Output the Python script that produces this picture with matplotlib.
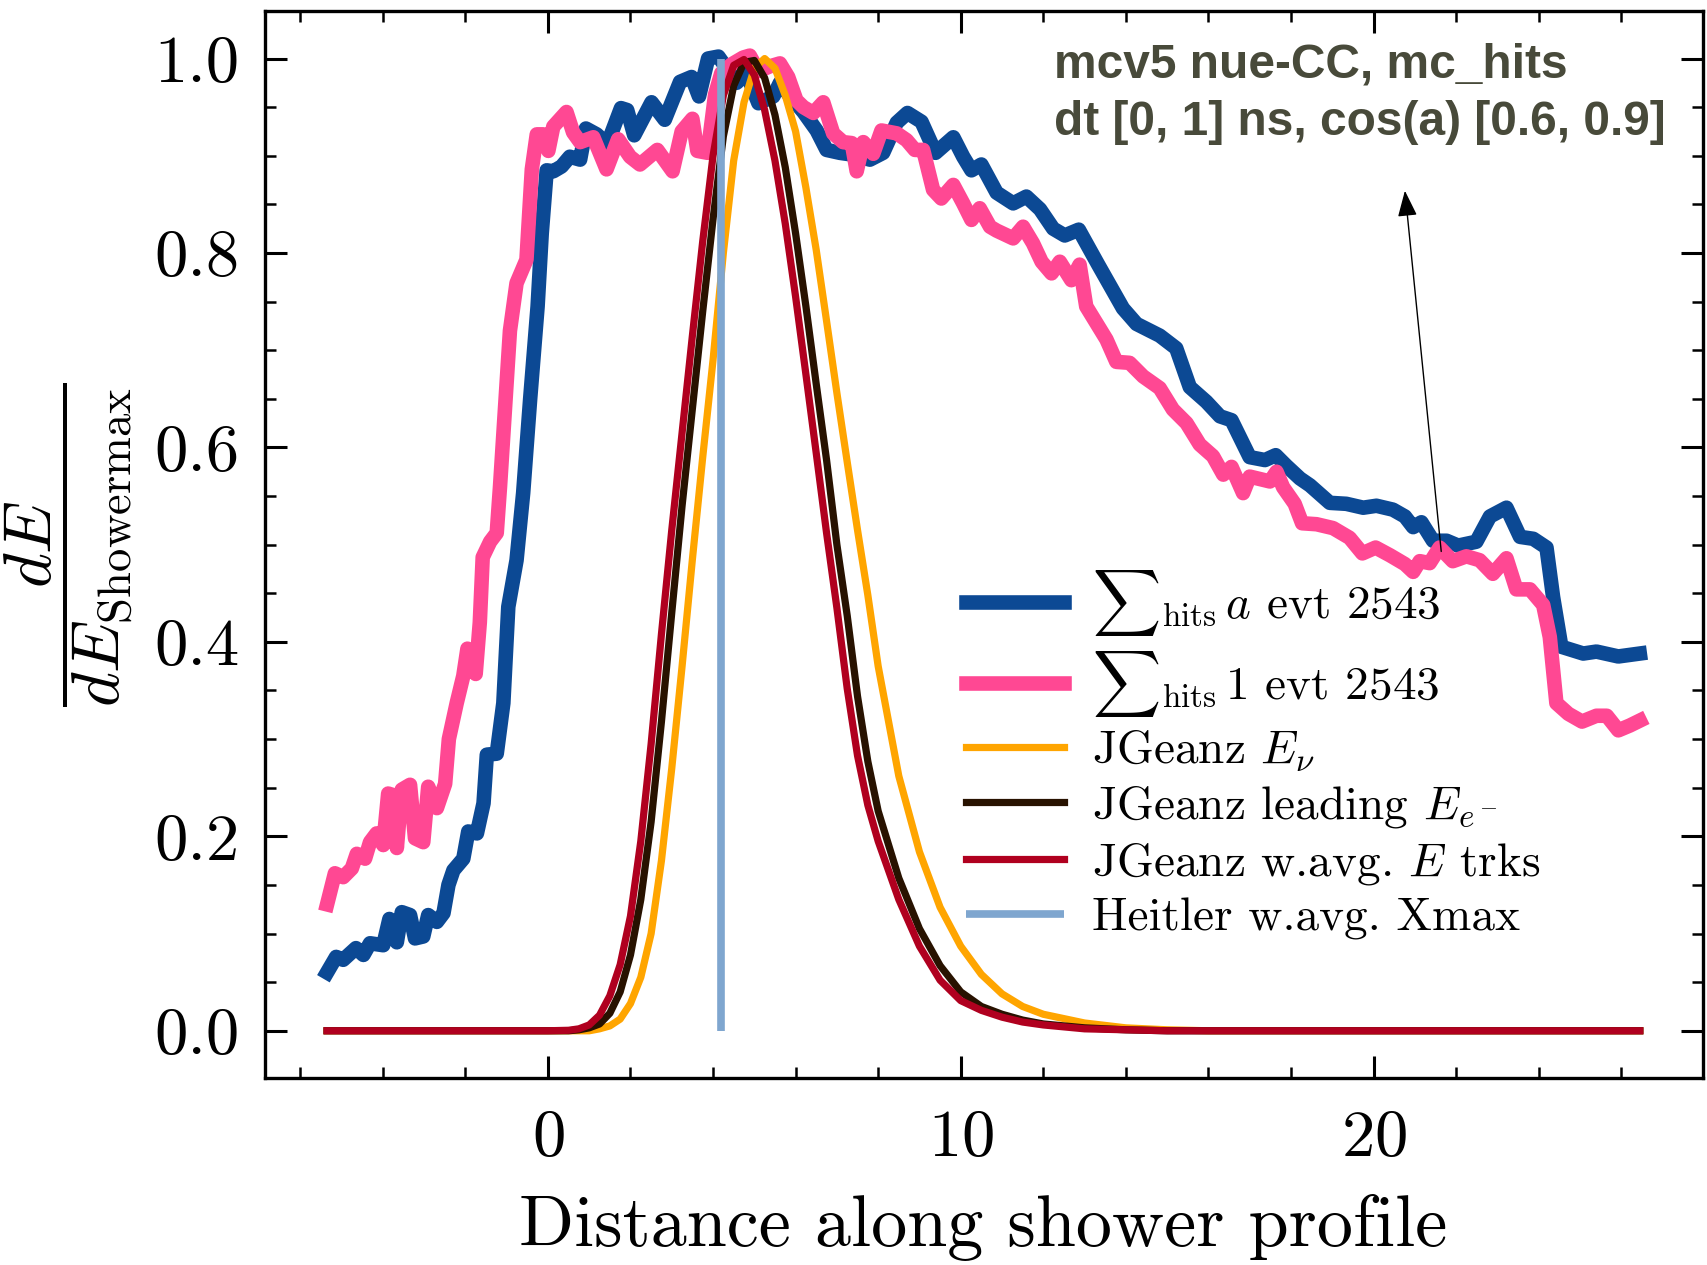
import numpy as np
import matplotlib
matplotlib.use('Agg')
import matplotlib.pyplot as plt

plt.rcParams['font.family'] = 'serif'
plt.rcParams['font.serif'] = ['cmr10']
plt.rcParams['mathtext.fontset'] = 'cm'
plt.rcParams['axes.formatter.use_mathtext'] = True
plt.rcParams['axes.unicode_minus'] = False

# summed hits, weighted by a
blue_x = [-5.35, -5.13, -4.96, -4.65, -4.47, -4.31, -3.99, -3.84, -3.66, -3.54, -3.34, -3.22,
          -3.02, -2.90, -2.69, -2.53, -2.41, -2.29, -2.05, -1.93, -1.72, -1.56, -1.48, -1.24,
          -1.08, -0.96, -0.76, -0.60, -0.43, -0.25, -0.15, -0.03, 0.13, 0.33, 0.53, 0.78, 0.92,
          1.18, 1.44, 1.77, 1.92, 2.09, 2.51, 2.83, 3.20, 3.48, 3.66, 3.88, 4.13, 4.33, 4.57,
          4.81, 5.10, 5.46, 5.62, 5.85, 6.19, 6.51, 6.75, 7.07, 7.40, 7.80, 8.12, 8.45, 8.71,
          9.05, 9.39, 9.82, 10.06, 10.26, 10.50, 10.87, 11.27, 11.59, 11.92, 12.24, 12.52, 12.86,
          13.33, 13.93, 14.26, 14.82, 15.22, 15.55, 15.95, 16.28, 16.56, 17.00, 17.37, 17.63,
          17.89, 18.22, 18.46, 18.94, 19.34, 19.75, 20.07, 20.47, 20.76, 20.96, 21.16, 21.44,
          21.77, 22.05, 22.49, 22.82, 23.22, 23.55, 23.87, 24.19, 24.35, 24.55, 25.08, 25.40,
          25.93, 26.45]
blue_y = [0.060, 0.076, 0.073, 0.085, 0.078, 0.090, 0.088, 0.115, 0.091, 0.122, 0.119, 0.095,
          0.097, 0.119, 0.112, 0.121, 0.150, 0.165, 0.177, 0.205, 0.203, 0.234, 0.284, 0.285,
          0.337, 0.436, 0.484, 0.553, 0.650, 0.745, 0.820, 0.885, 0.884, 0.889, 0.899, 0.896, 0.928,
          0.922, 0.912, 0.949, 0.947, 0.921, 0.955, 0.937, 0.976, 0.981, 0.961, 1.000, 1.002, 0.990, 0.975,
          0.985, 0.954, 0.961, 0.975, 0.962, 0.945, 0.926, 0.906, 0.903, 0.901, 0.896, 0.903, 0.934, 0.944,
          0.935, 0.903, 0.919, 0.899, 0.885, 0.891, 0.862, 0.851, 0.858, 0.845, 0.825, 0.818, 0.824,
          0.788, 0.743, 0.727, 0.715, 0.702, 0.662, 0.647, 0.632, 0.628, 0.590, 0.587, 0.592,
          0.581, 0.568, 0.561, 0.543, 0.542, 0.538, 0.540, 0.536, 0.529, 0.518, 0.523, 0.504,
          0.504, 0.499, 0.503, 0.529, 0.538, 0.508, 0.506, 0.497, 0.446, 0.395, 0.388, 0.390,
          0.385, 0.388]

# summed hits, unit weight
pink_x = [-5.35, -5.16, -4.96, -4.75, -4.63, -4.43, -4.31, -4.15, -3.99, -3.87, -3.72, -3.66,
          -3.54, -3.34, -3.22, -3.02, -2.90, -2.69, -2.49, -2.40, -2.21, -2.05, -1.95, -1.75,
          -1.65, -1.58, -1.40, -1.24, -1.16, -1.04, -0.92, -0.76, -0.52, -0.39, -0.27, -0.11,
          0.01, 0.13, 0.45, 0.61, 0.78, 1.10, 1.42, 1.70, 1.99, 2.23, 2.65, 3.02, 3.24, 3.50,
          3.62, 3.87, 4.05, 4.20, 4.45, 4.73, 4.89, 5.10, 5.38, 5.62, 5.82, 6.02, 6.19, 6.43,
          6.67, 6.91, 7.15, 7.36, 7.48, 7.64, 7.88, 8.08, 8.45, 8.69, 8.89, 9.09, 9.33, 9.53,
          9.82, 10.06, 10.26, 10.46, 10.71, 10.87, 11.27, 11.51, 11.75, 11.96, 12.20, 12.40,
          12.68, 12.88, 13.04, 13.53, 13.77, 14.09, 14.42, 14.82, 15.14, 15.47, 15.79, 16.11,
          16.36, 16.56, 16.84, 17.00, 17.49, 17.65, 17.81, 18.09, 18.27, 18.62, 19.02, 19.42,
          19.73, 20.05, 20.40, 20.76, 20.96, 21.12, 21.36, 21.60, 21.92, 22.25, 22.57, 22.89,
          23.22, 23.46, 23.79, 24.11, 24.27, 24.43, 24.72, 25.05, 25.40, 25.65, 25.93, 26.21,
          26.45]
pink_y = [0.130, 0.162, 0.158, 0.167, 0.182, 0.177, 0.194, 0.203, 0.191, 0.244, 0.242, 0.188,
          0.248, 0.253, 0.198, 0.194, 0.251, 0.229, 0.254, 0.300, 0.337, 0.365, 0.393, 0.367,
          0.420, 0.487, 0.503, 0.512, 0.560, 0.640, 0.720, 0.769, 0.793, 0.886, 0.922, 0.922,
          0.905, 0.930, 0.945, 0.924, 0.914, 0.919, 0.886, 0.917, 0.899, 0.891, 0.906, 0.884, 0.925, 0.938,
          0.905, 0.903, 0.963, 0.985, 0.994, 1.001, 1.003, 0.987, 0.992, 0.995, 0.981, 0.957, 0.950, 0.944,
          0.955, 0.923, 0.914, 0.913, 0.884, 0.914, 0.902, 0.926, 0.923, 0.916, 0.906, 0.906, 0.865, 0.856,
          0.870, 0.851, 0.834, 0.846, 0.827, 0.823, 0.815, 0.827, 0.810, 0.791, 0.779, 0.791,
          0.772, 0.788, 0.745, 0.711, 0.688, 0.687, 0.673, 0.661, 0.639, 0.625, 0.603, 0.591,
          0.572, 0.580, 0.553, 0.570, 0.565, 0.575, 0.559, 0.542, 0.522, 0.521, 0.517, 0.507,
          0.491, 0.497, 0.489, 0.480, 0.472, 0.483, 0.481, 0.497, 0.483, 0.488, 0.484, 0.470,
          0.486, 0.454, 0.454, 0.438, 0.405, 0.337, 0.326, 0.318, 0.324, 0.324, 0.309, 0.314,
          0.319]

# JGeanz model profiles
model_x = [-5.35, 0.0, 0.5, 0.75, 1.0, 1.25, 1.5, 1.75, 2.0, 2.25, 2.5, 2.75, 3.0, 3.25, 3.5,
           3.75, 4.0, 4.25, 4.5, 4.75, 5.0, 5.25, 5.5, 5.75, 6.0, 6.25, 6.5, 6.75, 7.0, 7.25,
           7.5, 7.75, 8.0, 8.5, 9.0, 9.5, 10.0, 10.5, 11.0, 11.5, 12.0, 13.0, 14.0, 15.0, 16.0,
           18.0, 26.45]
e_nu = [0, 0, 0, 0, 0, 0.002, 0.005, 0.012, 0.028, 0.055, 0.100, 0.175, 0.270, 0.375, 0.485,
        0.590, 0.690, 0.800, 0.895, 0.955, 0.990, 1.000, 0.990, 0.962, 0.925, 0.867, 0.803, 0.730,
        0.656, 0.585, 0.515, 0.448, 0.375, 0.262, 0.184, 0.127, 0.087, 0.058, 0.038, 0.025,
        0.017, 0.008, 0.003, 0.001, 0, 0, 0]
e_lead = [0, 0, 0, 0.001, 0.003, 0.007, 0.018, 0.040, 0.078, 0.135, 0.215, 0.318, 0.430, 0.540,
          0.640, 0.740, 0.835, 0.920, 0.972, 0.996, 0.998, 0.980, 0.942, 0.888, 0.820, 0.745,
          0.665, 0.587, 0.500, 0.427, 0.344, 0.277, 0.226, 0.157, 0.105, 0.067, 0.040, 0.025,
          0.017, 0.011, 0.007, 0.003, 0.001, 0, 0, 0, 0]
e_trks = [0, 0, 0.0005, 0.002, 0.006, 0.016, 0.036, 0.068, 0.118, 0.195, 0.295, 0.408, 0.515,
          0.615, 0.715, 0.812, 0.900, 0.962, 0.993, 0.999, 0.983, 0.947, 0.895, 0.830, 0.755,
          0.675, 0.594, 0.512, 0.435, 0.352, 0.283, 0.232, 0.195, 0.135, 0.087, 0.052, 0.031,
          0.021, 0.014, 0.009, 0.006, 0.002, 0.001, 0, 0, 0, 0]

heitler_xmax = 4.19

fig = plt.figure(figsize=(17.08, 12.65), dpi=100)
ax = fig.add_axes([0.155, 0.1475, 0.8418, 0.8439])

ax.plot(blue_x, blue_y, color='#0c4994', lw=10.5, label=r'${\sum}_{\rm hits}\,a$ evt 2543')
ax.plot(pink_x, pink_y, color='#ff4893', lw=10.5, label=r'${\sum}_{\rm hits}\,1$ evt 2543')
ax.plot(model_x, e_nu, color='#ffa500', lw=5.2, label=r'JGeanz $E_\nu$')
ax.plot(model_x, e_lead, color='#281200', lw=5.2, label=r'JGeanz leading $E_{e^-}$')
ax.plot(model_x, e_trks, color='#b0001f', lw=5.2, label=r'JGeanz w.avg. $E$ trks')
ax.plot([heitler_xmax, heitler_xmax], [0, 1], color='#7fa6cf', lw=5.5,
        solid_capstyle='butt', label='Heitler w.avg. Xmax')

ax.set_ylim(-0.049, 1.049)
ax.set_xlim(-6.86, 27.97)

ax.xaxis.set_major_locator(plt.MultipleLocator(10))
ax.xaxis.set_minor_locator(plt.MultipleLocator(2))
ax.yaxis.set_major_locator(plt.MultipleLocator(0.2))
ax.yaxis.set_minor_locator(plt.MultipleLocator(0.05))
ax.yaxis.set_major_formatter(plt.FormatStrFormatter('%.1f'))
ax.tick_params(which='both', direction='in', top=True, right=True)
ax.tick_params(which='major', length=16, width=2.2, labelsize=48)
ax.tick_params(which='minor', length=8, width=1.8)
ax.tick_params(axis='y', pad=18)
ax.tick_params(axis='x', pad=22)
for s in ax.spines.values():
    s.set_linewidth(2.4)

ax.set_xlabel('Distance along shower profile', fontsize=52, labelpad=18)
ax.set_ylabel(r'$\dfrac{dE}{dE_{\rm Showermax}}$', fontsize=48, labelpad=14)

ax.legend(loc='center left', bbox_to_anchor=(0.4877, 0.304), frameon=False,
          fontsize=34, handlelength=2.07, handletextpad=0.6, labelspacing=0.22,
          borderpad=0, borderaxespad=0)

ax.text(12.26, 1.016, 'mcv5 nue-CC, mc_hits\ndt [0, 1] ns, cos(a) [0.6, 0.9]',
        family='Liberation Sans', weight='bold', fontsize=34.5, color='#484a3a',
        va='top', ha='left', linespacing=1.33)
ax.annotate('', xy=(20.76, 0.864), xytext=(21.64, 0.493),
            arrowprops=dict(arrowstyle='-|>,head_length=0.4,head_width=0.15',
                            mutation_scale=40, lw=1, color='k', shrinkA=0, shrinkB=0))

fig.savefig('out.png', dpi=100)
